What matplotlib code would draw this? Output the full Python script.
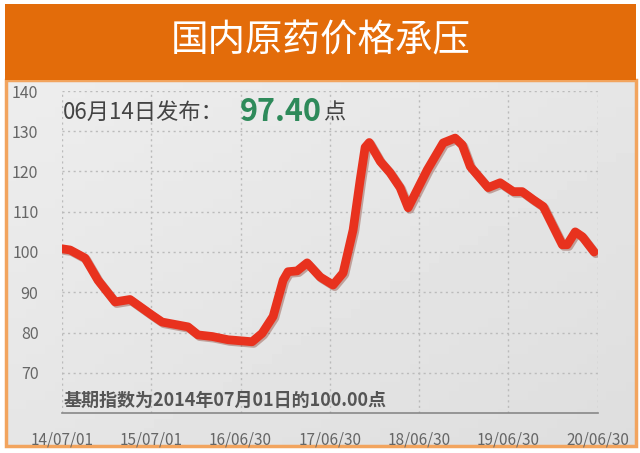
import numpy as np, matplotlib
matplotlib.use("Agg")
import matplotlib.pyplot as plt
import matplotlib.patheffects as pe
from matplotlib.patches import Rectangle
import pandas as pd

plt.rcParams["font.family"] = ["Noto Sans CJK SC", "DejaVu Sans"]

TITLE = "国内原药价格承压"
dates = ["2014-07-01","2014-08-03","2014-10-03","2014-11-25","2015-02-03","2015-04-05",
         "2015-07-04","2015-08-14","2015-11-28","2016-01-08","2016-03-06","2016-05-10",
         "2016-08-16","2016-09-26","2016-11-10","2016-12-21","2017-01-10","2017-02-16",
         "2017-03-29","2017-05-21","2017-07-13","2017-08-23","2017-10-03","2017-11-01",
         "2017-11-21","2017-12-08","2018-01-22","2018-03-03","2018-04-13","2018-05-16",
         "2018-08-02","2018-10-06","2018-11-24","2018-12-23","2019-01-25","2019-04-08",
         "2019-05-27","2019-07-20","2019-08-25","2019-10-09","2019-11-19","2019-12-30",
         "2020-02-05","2020-02-25","2020-03-29","2020-04-27","2020-06-14"]
index_vals = [100.8,100.5,98.5,93.0,87.6,88.2,
              84.3,82.6,81.4,79.4,79.0,78.2,
              77.7,79.8,84.0,93.0,95.1,95.3,
              97.3,93.8,91.8,94.8,105.5,118.0,
              126.0,127.2,122.5,119.7,116.0,111.0,
              120.4,127.1,128.3,126.6,121.2,116.0,
              117.2,115.0,115.0,113.0,111.3,106.3,
              101.8,101.8,105.0,103.8,100.0]
tick_dates = ["2014-07-01","2015-07-01","2016-06-30","2017-06-30","2018-06-30","2019-06-30","2020-06-30"]
tick_labels = ["14/07/01","15/07/01","16/06/30","17/06/30","18/06/30","19/06/30","20/06/30"]
y_ticks = [70, 80, 90, 100, 110, 120, 130, 140]
release_date = "06月14日发布："
release_val = "97.40"
base_note = "基期指数为2014年07月01日的100.00点"

W, H = 640, 453
fig = plt.figure(figsize=(W/100, H/100), dpi=100)
fig.patch.set_facecolor("white")

# background layer in pixel coords
bg = fig.add_axes([0, 0, 1, 1]); bg.set_xlim(0, W); bg.set_ylim(H, 0); bg.axis("off")
gx, gy = np.meshgrid(np.linspace(0, 1, 64), np.linspace(0, 1, 40))
grad = 0.93 - 0.06*(0.5*gx + 0.5*gy)
bg.imshow(grad, cmap="gray", vmin=0, vmax=1, extent=(6, 636, 446, 80), aspect="auto", zorder=1)
bg.add_patch(Rectangle((6, 80), 630, 366, fill=False, ec="#F2A45E", lw=2.5, zorder=2))
bg.add_patch(Rectangle((5, 4), 631, 76, fc="#E36C0A", ec="none", zorder=3))
bg.text(321, 41, TITLE, color="white", fontsize=27, ha="center", va="center", fontweight="medium", zorder=4)

x = pd.to_datetime(dates)
ax = fig.add_axes([62/W, (H-413)/H, 536/W, 322/H])
ax.set_facecolor("none")
ax.plot(x, index_vals, color="#E8321E", lw=6.3, solid_capstyle="round", solid_joinstyle="round",
        path_effects=[pe.SimpleLineShadow(offset=(1.2, -1.2), shadow_color="#7a2010", alpha=0.35), pe.Normal()],
        zorder=3)
ax.set_xlim(pd.Timestamp("2014-07-01"), pd.Timestamp("2020-06-30"))
ax.set_ylim(60, 140)
ax.set_yticks(y_ticks)
ax.set_xticks(pd.to_datetime(tick_dates))
ax.set_xticklabels(tick_labels)
ax.grid(True, ls=(0, (1.5, 2.5)), color="#BBBBBB", lw=1)
for s in ["left", "right", "top"]:
    ax.spines[s].set_visible(False)
ax.spines["bottom"].set_color("#888888"); ax.spines["bottom"].set_linewidth(1.2)
ax.tick_params(axis="both", length=0, labelsize=11.5, colors="#666666")
ax.tick_params(axis="x", pad=13, labelsize=11)
ax.tick_params(axis="y", pad=17)

ax.text(0.002, 0.933, release_date, transform=ax.transAxes, fontsize=16, color="#444444", va="center", ha="left")
val = ax.text(0.332, 0.936, release_val, transform=ax.transAxes, fontsize=22, color="#2E8A5A",
              fontweight="bold", va="center", ha="left")
ax.annotate("点", xy=(1, 0.5), xycoords=val, xytext=(1, -1), textcoords="offset points",
            fontsize=16, color="#444444", va="center", ha="left")
ax.text(0.002, 0.04, base_note, transform=ax.transAxes, fontsize=13, color="#555555",
        fontweight="bold", va="center", ha="left")

fig.savefig("out.png", dpi=100)
